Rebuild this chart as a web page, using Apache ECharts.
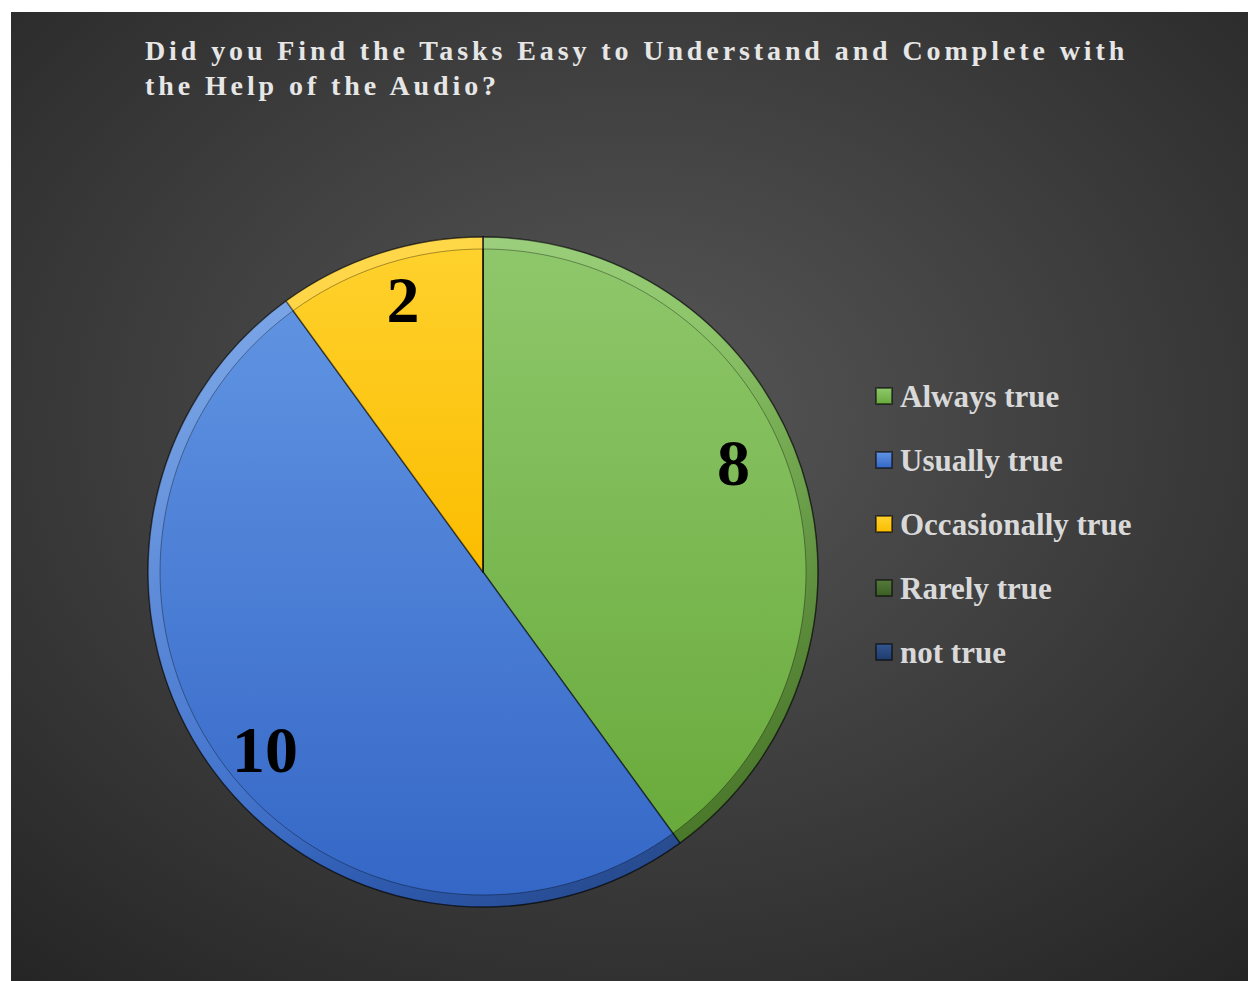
<!DOCTYPE html>
<html>
<head>
<meta charset="utf-8">
<script src="https://cdn.jsdelivr.net/npm/echarts@6/dist/echarts.min.js"></script>
<style>
  html, body { margin: 0; padding: 0; background: #ffffff; }
  #chart { position: absolute; left: 11px; top: 12px; width: 1237px; height: 969px; }
</style>
</head>
<body>
<div id="chart"></div>
<script>
// Survey answers and their counts
const titleLines = [
  'Did you Find the Tasks Easy to Understand and Complete with',
  'the Help of the Audio?'
];
const categories = ['Always true', 'Usually true', 'Occasionally true', 'Rarely true', 'not true'];
const counts = [8, 10, 2, 0, 0];

// Face colours per answer: [top, bottom] of the bevelled slice
const faceColors = [
  ['#8fc86c', '#69aa3b'],
  ['#6094e2', '#3466c6'],
  ['#ffd22e', '#fbbd00'],
  ['#557a3a', '#3b5e25'],
  ['#34558f', '#1f3b6b']
];
// Value labels nudged toward where they sit inside each slice
const labelNudge = [[-14, -24], [7, 14], [6, -8], [0, 0], [0, 0]];

const serif = '"Times New Roman", "Liberation Serif", serif';
const cx = 472, cy = 560, R = 335;

function vGrad(c) {
  return new echarts.graphic.LinearGradient(0, 0, 0, 1, [
    { offset: 0, color: c[0] },
    { offset: 1, color: c[1] }
  ]);
}

const faceData = categories.map((name, i) => ({
  name: name,
  value: counts[i],
  itemStyle: { color: vGrad(faceColors[i]) }
}));

const labelData = categories.map((name, i) => ({
  name: name,
  value: counts[i],
  label: { offset: labelNudge[i] }
}));

const chart = echarts.init(document.getElementById('chart'), null, { renderer: 'svg' });

chart.setOption({
  animation: false,
  backgroundColor: new echarts.graphic.RadialGradient(0.5, 0.42, 0.78, [
    { offset: 0, color: '#575757' },
    { offset: 1, color: '#242424' }
  ]),
  title: {
    text: titleLines.join('\n'),
    left: 129,
    top: 16,
    textStyle: {
      fontFamily: serif,
      fontWeight: 'bold',
      fontSize: 28,
      lineHeight: 35,
      color: '#e6e6e6'
    }
  },
  legend: {
    orient: 'vertical',
    left: 859,
    top: 362,
    itemWidth: 16,
    itemHeight: 16,
    itemGap: 30,
    icon: 'rect',
    data: categories,
    selectedMode: false,
    textStyle: {
      fontFamily: serif,
      fontWeight: 'bold',
      fontSize: 31,
      lineHeight: 34,
      color: '#d9d9d9',
      padding: [0, 0, 0, 3]
    }
  },
  series: [
    {
      // slice faces
      type: 'pie',
      center: [cx, cy],
      radius: [0, R],
      startAngle: 90,
      clockwise: true,
      silent: true,
      avoidLabelOverlap: false,
      label: { show: false },
      labelLine: { show: false },
      itemStyle: { borderColor: 'rgba(0,0,0,0.5)', borderWidth: 1.5 },
      data: faceData
    },
    {
      // bevelled rim around the whole pie
      type: 'pie',
      center: [cx, cy],
      radius: [R - 12, R],
      silent: true,
      label: { show: false },
      labelLine: { show: false },
      itemStyle: {
        color: new echarts.graphic.LinearGradient(0, 0, 1, 1, [
          { offset: 0, color: 'rgba(255,255,255,0.22)' },
          { offset: 0.45, color: 'rgba(255,255,255,0.04)' },
          { offset: 0.6, color: 'rgba(0,0,0,0.08)' },
          { offset: 1, color: 'rgba(0,0,0,0.42)' }
        ]),
        borderColor: 'rgba(0,0,0,0.35)',
        borderWidth: 1
      },
      data: [{ name: '__rim', value: 1 }]
    },
    {
      // value labels
      type: 'pie',
      center: [cx, cy],
      radius: [215, R],
      startAngle: 90,
      clockwise: true,
      silent: true,
      avoidLabelOverlap: false,
      itemStyle: { color: 'rgba(0,0,0,0)' },
      labelLine: { show: false },
      label: {
        show: true,
        position: 'inside',
        formatter: p => (p.value > 0 ? String(p.value) : ''),
        fontFamily: serif,
        fontWeight: 'bold',
        fontSize: 66,
        color: '#000000'
      },
      data: labelData
    }
  ]
});

// spread the title letters apart
function spaceTitle() {
  document.querySelectorAll('#chart svg text').forEach(t => {
    if (titleLines.indexOf(t.textContent) >= 0) {
      t.setAttribute('letter-spacing', '3.9');
    }
  });
}
spaceTitle();
chart.on('finished', spaceTitle);
</script>
</body>
</html>
